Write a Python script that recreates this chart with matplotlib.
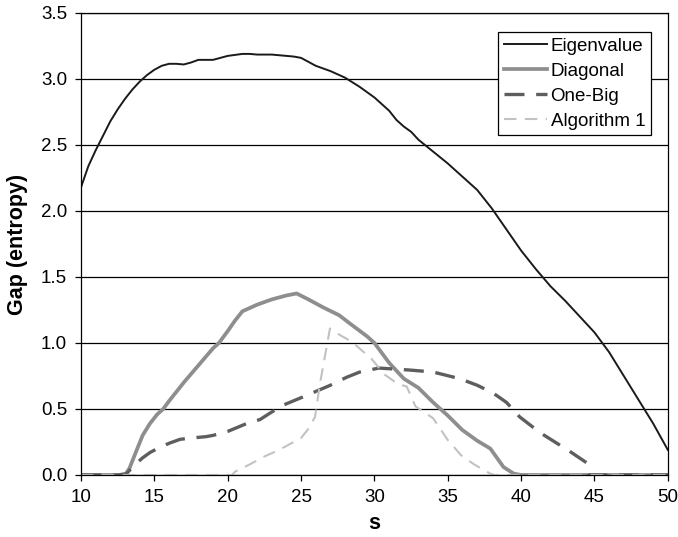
import matplotlib
matplotlib.use("Agg")
import matplotlib.pyplot as plt

plt.rcParams['font.family'] = ['Liberation Sans', 'DejaVu Sans']

# Eigenvalue
eig_s = [10, 10.5, 11, 11.5, 12, 12.5, 13, 13.5, 14, 14.5, 15, 15.5, 16, 16.5, 17, 17.5,
         18, 18.5, 19, 19.5, 20, 21, 21.5, 22, 23, 24, 24.5, 25, 25.5, 26, 27, 28, 29, 30,
         31, 31.5, 32, 32.5, 33, 34, 35, 36, 37, 38, 39, 40, 41, 42, 43, 44, 45, 46, 47,
         48, 49, 50]
eig_v = [2.18, 2.34, 2.46, 2.57, 2.68, 2.77, 2.85, 2.92, 2.98, 3.03, 3.07, 3.10, 3.115,
         3.115, 3.11, 3.125, 3.145, 3.145, 3.145, 3.16, 3.175, 3.19, 3.19, 3.185, 3.185,
         3.175, 3.17, 3.16, 3.13, 3.10, 3.06, 3.01, 2.94, 2.86, 2.76, 2.69, 2.64, 2.60,
         2.54, 2.45, 2.36, 2.26, 2.16, 2.02, 1.86, 1.70, 1.56, 1.43, 1.32, 1.20, 1.08,
         0.93, 0.75, 0.57, 0.39, 0.19]

# Diagonal
diag_s = [10, 12, 13, 13.3, 13.8, 14.2, 14.7, 15.2, 15.6, 16, 17, 18, 19, 19.4, 20, 20.5,
          21, 22, 23, 24, 24.7, 25.5, 26.5, 27.6, 28.3, 29.5, 30, 31, 32, 33, 34, 34.5,
          35, 36, 37, 37.9, 38.8, 39.5, 40, 50]
diag_v = [0, 0, 0, 0.05, 0.19, 0.30, 0.39, 0.46, 0.50, 0.56, 0.70, 0.83, 0.96, 1.0, 1.09,
          1.17, 1.24, 1.29, 1.33, 1.36, 1.375, 1.33, 1.27, 1.21, 1.15, 1.05, 1.0, 0.85,
          0.73, 0.66, 0.55, 0.50, 0.45, 0.34, 0.26, 0.20, 0.06, 0.01, 0, 0]

# One-Big
big_s = [10, 12.5, 13.1, 13.6, 14.2, 14.7, 15.2, 16, 16.75, 17.5, 18.5, 19, 20, 21.3, 22.2,
         22.9, 23.8, 25.1, 27, 28.1, 29, 30.3, 32.4, 34, 35.8, 37, 38.1, 39, 39.9, 41.3,
         42.3, 43.3, 44.5, 44.6, 50]
big_v = [0, 0, 0.01, 0.07, 0.13, 0.17, 0.20, 0.24, 0.27, 0.28, 0.29, 0.30, 0.33, 0.39,
         0.42, 0.47, 0.53, 0.59, 0.68, 0.74, 0.78, 0.81, 0.795, 0.78, 0.73, 0.68, 0.62,
         0.55, 0.44, 0.32, 0.25, 0.18, 0.09, 0, 0]

# Algorithm 1
alg_s = [10, 20.3, 20.5, 21.5, 22.5, 23.5, 24.5, 25, 25.5, 25.95, 26.3, 26.97, 27.65,
         28.45, 29.8, 30.7, 31.6, 32.2, 32.8, 34, 35, 35.9, 36.8, 37.9, 38.2, 50]
alg_v = [0, 0, 0.025, 0.08, 0.14, 0.19, 0.25, 0.28, 0.35, 0.44, 0.70, 1.11, 1.06, 1.01,
         0.88, 0.76, 0.69, 0.67, 0.52, 0.43, 0.265, 0.15, 0.08, 0.01, 0, 0]

fig = plt.figure(figsize=(6.78, 5.37), dpi=100)
ax = fig.add_axes([0.1195, 0.1155, 0.8655, 0.8603])

ax.plot(eig_s, eig_v, color='#1a1a1a', linewidth=1.4, label='Eigenvalue')
ax.plot(diag_s, diag_v, color='#8e8e8e', linewidth=2.7, label='Diagonal')
ax.plot(big_s, big_v, color='#5e5e5e', linewidth=2.4, dashes=(6, 3.5), label='One-Big')
ax.plot(alg_s, alg_v, color='#c2c2c2', linewidth=1.5, dashes=(6, 4), label='Algorithm 1')

ax.set_xlim(10, 50)
ax.set_ylim(0, 3.5)
ax.set_xticks(range(10, 51, 5))
ax.set_yticks([i * 0.5 for i in range(8)])
ax.set_yticklabels(['%.1f' % (i * 0.5) for i in range(8)])
ax.yaxis.grid(True, color='black', linewidth=0.9)
ax.set_axisbelow(True)
for sp in ax.spines.values():
    sp.set_color('black')
    sp.set_linewidth(0.9)
ax.tick_params(axis='both', labelsize=13.5, direction='out', length=4, width=0.9, pad=6)

ax.set_xlabel('s', fontsize=15.5, fontweight='bold', labelpad=5)
ax.set_ylabel('Gap (entropy)', fontsize=15.5, fontweight='bold', labelpad=9)

leg = ax.legend(loc='upper right', bbox_to_anchor=(0.971, 0.959), borderaxespad=0,
                fancybox=False, edgecolor='black', framealpha=1, fontsize=13.5,
                handlelength=2.3, handletextpad=0.2, labelspacing=0.42, borderpad=0.3)
leg.get_frame().set_linewidth(0.9)

fig.savefig('out.png', dpi=100)
